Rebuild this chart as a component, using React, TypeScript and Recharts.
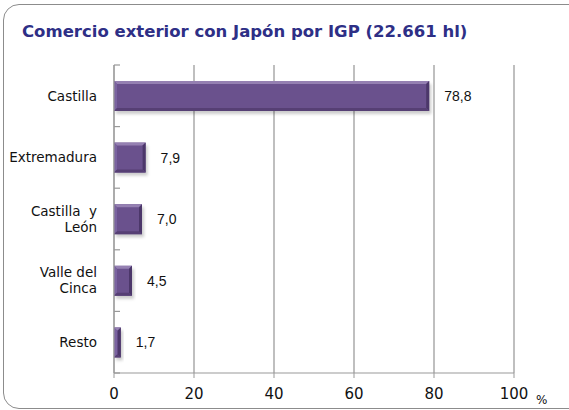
import React from "react";
import { BarChart, Bar, XAxis, YAxis, CartesianGrid, LabelList } from "recharts";

const regions = ["Castilla", "Extremadura", "Castilla y León", "Valle del Cinca", "Resto"];
const regionLines = [["Castilla"], ["Extremadura"], ["Castilla\u00a0 y", "León"], ["Valle del", "Cinca"], ["Resto"]];
const shares = [78.8, 7.9, 7.0, 4.5, 1.7];
const xTicks = [0, 20, 40, 60, 80, 100];

const data = regions.map((name, i) => ({ name, lines: regionLines[i], value: shares[i] }));

const W = 569;
const H = 410;
const MARGIN = { top: 65, right: 55, bottom: 7, left: 0 };
const Y_W = 114;
const X_H = 30;
const BAND = (H - MARGIN.top - MARGIN.bottom - X_H) / regions.length;

const purple = "#6a518d";
const labelFont = "'DejaVu Sans', Verdana, sans-serif";

// eslint-disable-next-line @typescript-eslint/no-explicit-any
function CategoryTick({ x, y, index }: any) {
  const lines = data[index]?.lines ?? [];
  const start = -((lines.length - 1) * 16) / 2;
  return (
    <g>
      <line x1={x + 8} x2={x + 14} y1={y - BAND / 2} y2={y - BAND / 2} stroke="#999" strokeWidth={1.2} />
      {index === data.length - 1 && (
        <line x1={x + 8} x2={x + 14} y1={y + BAND / 2} y2={y + BAND / 2} stroke="#999" strokeWidth={1.2} />
      )}
      <text x={x - 9} y={y} textAnchor="end" fontSize={13.5} fontFamily={labelFont} fill="#111">
        {lines.map((l: string, i: number) => (
          <tspan key={i} x={x - 9} y={y + start + i * 16} dy="0.36em">
            {l}
          </tspan>
        ))}
      </text>
    </g>
  );
}

// eslint-disable-next-line @typescript-eslint/no-explicit-any
function BevelBar({ x, y, width, height }: any) {
  if (!width || width <= 0) return null;
  const b = Math.min(3, width / 2);
  return (
    <g>
      <rect x={x + 2} y={y + 3} width={width} height={height} fill="rgba(0,0,0,0.2)" filter="url(#barShadow)" />
      <rect x={x} y={y} width={width} height={height} fill={purple} />
      <polygon points={`${x},${y} ${x + width},${y} ${x + width - b},${y + b} ${x + b},${y + b}`} fill="#9580b2" />
      <polygon points={`${x},${y} ${x + b},${y + b} ${x + b},${y + height - b} ${x},${y + height}`} fill="#7a63a0" />
      <polygon
        points={`${x + width},${y} ${x + width},${y + height} ${x + width - b},${y + height - b} ${x + width - b},${y + b}`}
        fill="#4c376a"
      />
      <polygon
        points={`${x},${y + height} ${x + width},${y + height} ${x + width - b},${y + height - b} ${x + b},${y + height - b}`}
        fill="#563f74"
      />
    </g>
  );
}

export default function App() {
  return (
    <div style={{ position: "absolute", left: 0, top: 0, width: W, height: H, overflow: "hidden", background: "#fff" }}>
      <div
        style={{
          position: "absolute",
          left: 3,
          top: 4,
          width: 620,
          height: 403,
          border: "1.5px solid #8c8c8c",
          borderRadius: 16,
        }}
      />
      <div
        style={{
          position: "absolute",
          left: 22,
          top: 22,
          fontFamily: "'DejaVu Sans', Verdana, sans-serif",
          fontWeight: "bold",
          fontSize: 16.5,
          color: "#2e2f86",
          whiteSpace: "nowrap",
        }}
      >
        Comercio exterior con Japón por IGP (22.661 hl)
      </div>
      <div style={{ position: "absolute", left: 0, top: 0 }}>
        <BarChart width={W} height={H} data={data} layout="vertical" margin={MARGIN} barSize={30}>
          <defs>
            <filter id="barShadow" x="-10%" y="-30%" width="120%" height="160%">
              <feGaussianBlur stdDeviation="1.5" />
            </filter>
          </defs>
          <CartesianGrid horizontal={false} stroke="#aaa" strokeWidth={1.5} />
          <XAxis
            type="number"
            domain={[0, 100]}
            ticks={xTicks}
            height={X_H}
            stroke="#999"
            tickSize={5}
            tick={{ fontSize: 15, fill: "#111", fontFamily: labelFont }}
            tickMargin={10}
          />
          <YAxis
            type="category"
            dataKey="name"
            width={Y_W}
            stroke="#999"
            tickLine={false}
            tick={<CategoryTick />}
            interval={0}
          />
          <Bar dataKey="value" shape={<BevelBar />} isAnimationActive={false}>
            <LabelList
              dataKey="value"
              position="right"
              offset={15}
              formatter={(v: number) => v.toFixed(1).replace(".", ",")}
              style={{ fontSize: 14, fill: "#111", fontFamily: "'Liberation Sans', Arial, sans-serif" }}
            />
          </Bar>
        </BarChart>
      </div>
      <div
        style={{
          position: "absolute",
          left: 536,
          top: 393,
          fontSize: 12,
          fontFamily: labelFont,
          color: "#111",
        }}
      >
        %
      </div>
    </div>
  );
}
